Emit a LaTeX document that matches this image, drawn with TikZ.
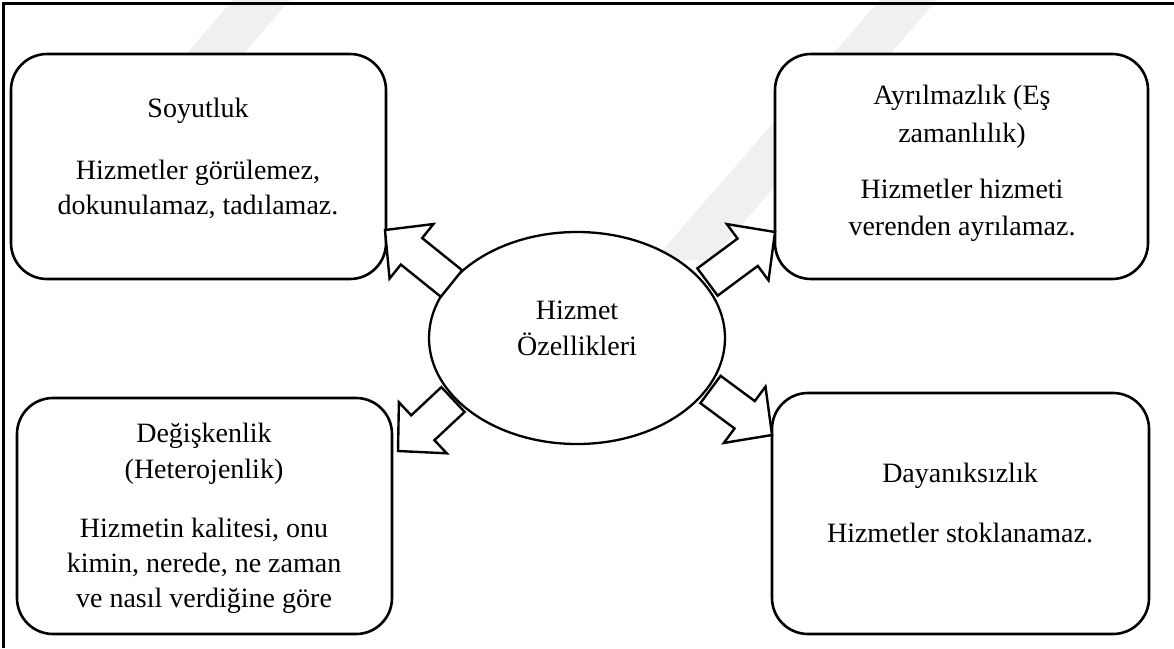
\documentclass[tikz,border=0pt]{standalone}
\usepackage{fontspec}
\setmainfont{Liberation Serif}
\usetikzlibrary{calc,shapes.geometric}

\tikzset{
  box/.style={draw, fill=white, line width=2.6pt, rounded corners=36pt, inner sep=0pt},
  oval/.style={draw, fill=white, line width=2.3pt, ellipse, inner sep=0pt},
  txt/.style={anchor=base, inner sep=0pt, font=\fontsize{28}{35}\selectfont},
  barrow/.style={draw, line width=2.4pt, line join=miter, fill=white},
  frame/.style={line width=2.3pt},
  mark band/.style={fill=black!6, draw=none}
}

% block arrow from base midpoint #1 to tip #2
\newcommand{\blockarrow}[2]{%
  \coordinate (ha) at ($(#2)!34pt!(#1)$);
  \draw[barrow]
    ($(#1)!17pt!90:(#2)$) --
    ($(ha)!17pt!-90:(#1)$) --
    ($(ha)!35pt!-90:(#1)$) --
    (#2) --
    ($(ha)!35pt!90:(#1)$) --
    ($(ha)!17pt!90:(#1)$) --
    ($(#1)!17pt!-90:(#2)$) -- cycle;
}

\begin{document}
\begin{tikzpicture}[x=1pt,y=-1pt]
  \useasboundingbox (0,0) rectangle (1174,648);
  \fill[white] (0,0) rectangle (1174,648);

  % faint background bands behind the boxes
  \fill[mark band] (233,0) -- (290,0) -- (200,104) -- (143,104) -- cycle;
  \fill[mark band] (880,0) -- (937,0) -- (711,260) -- (654,260) -- cycle;

  % outer frame (left and top edges)
  \draw[frame] (3.5,648) -- (3.5,3.5) -- (1174,3.5);

  % the four property boxes
  \node[box, minimum width=375pt, minimum height=225pt] (soy) at (198.5,166.5) {};
  \node[box, minimum width=373pt, minimum height=225pt] (ayr) at (961.5,166.5) {};
  \node[box, minimum width=375pt, minimum height=236pt] (deg) at (204.5,516) {};
  \node[box, minimum width=377pt, minimum height=241pt] (day) at (960.5,513.5) {};

  % central ellipse
  \node[oval, minimum width=296pt, minimum height=212pt] (hiz) at (577,338) {};

  % block arrows from the ellipse to each box
  \coordinate (tlb) at (451.5,283.5); \coordinate (tlt) at (385,230);
  \coordinate (trb) at (707.5,282);   \coordinate (trt) at (775,232);
  \coordinate (blb) at (453,399.5);   \coordinate (blt) at (398,451);
  \coordinate (brb) at (710.5,389.5); \coordinate (brt) at (772,435);
  \blockarrow{tlb}{tlt}
  \blockarrow{trb}{trt}
  \blockarrow{blb}{blt}
  \blockarrow{brb}{brt}

  % texts
  \node[txt] (soy1) at (198,117) {Soyutluk};
  \node[txt] (soy2) at (198,179) {Hizmetler görülemez,};
  \node[txt] (soy3) at (198,214) {dokunulamaz, tadılamaz.};

  \node[txt] (ayr1) at (962,104) {Ayrılmazlık (Eş};
  \node[txt] (ayr2) at (962,142) {zamanlılık)};
  \node[txt] (ayr3) at (962,198) {Hizmetler hizmeti};
  \node[txt] (ayr4) at (962,235) {verenden ayrılamaz.};

  \node[txt] (deg1) at (204,442) {Değişkenlik};
  \node[txt] (deg2) at (204,478) {(Heterojenlik)};
  \node[txt] (deg3) at (204,537) {Hizmetin kalitesi, onu};
  \node[txt] (deg4) at (204,572) {kimin, nerede, ne zaman};
  \node[txt] (deg5) at (204,607) {ve nasıl verdiğine göre};

  \node[txt] (day1) at (960,482) {Dayanıksızlık};
  \node[txt] (day2) at (960,542) {Hizmetler stoklanamaz.};

  \node[txt] (hiz1) at (577,319) {Hizmet};
  \node[txt] (hiz2) at (577,355) {Özellikleri};
\end{tikzpicture}
\end{document}
